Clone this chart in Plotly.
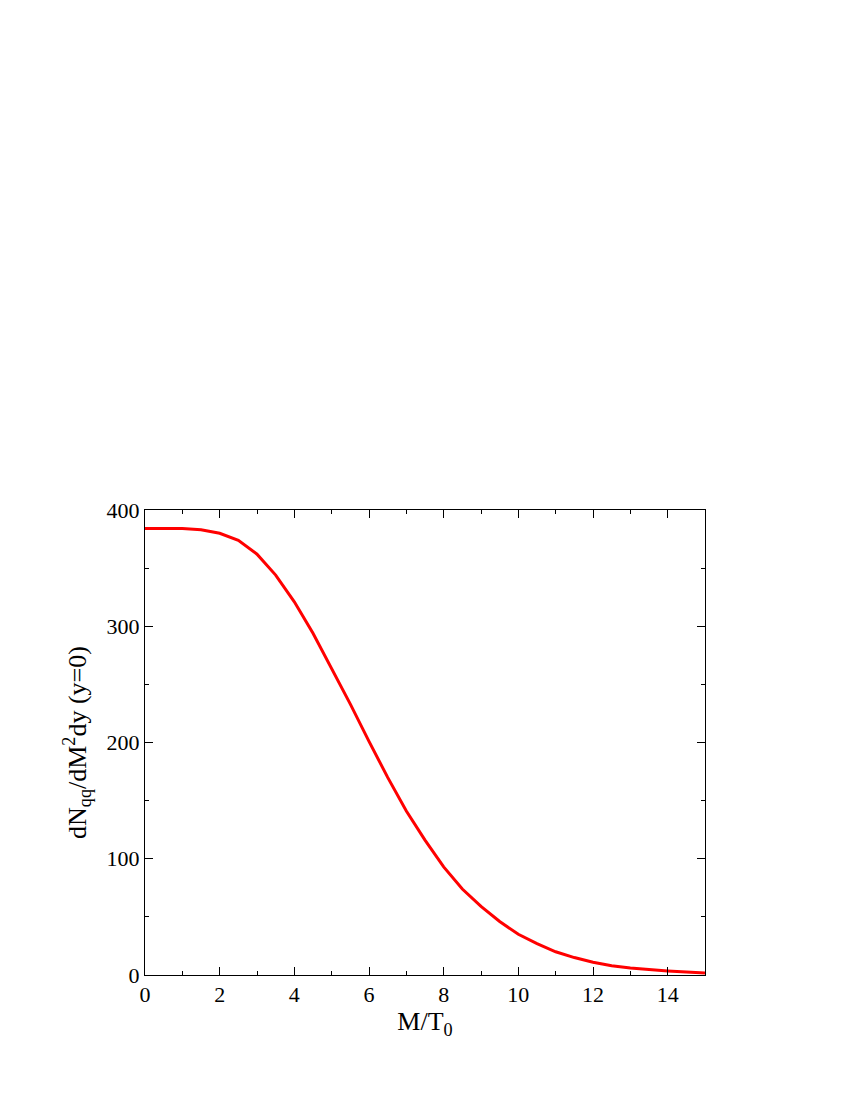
import plotly.graph_objects as go

m_over_t = [0, 0.5, 1, 1.5, 2, 2.5, 3, 3.5, 4, 4.5, 5, 5.5, 6, 6.5, 7, 7.5, 8, 8.5, 9, 9.5,
            10, 10.5, 11, 11.5, 12, 12.5, 13, 13.5, 14, 14.5, 15]
dn = [384, 384, 384, 383, 380, 374, 362, 344, 321, 294, 264, 233, 201, 170, 141, 116, 93, 74, 59, 46,
      35, 27, 20, 15, 11, 8, 6, 4.5, 3.5, 2.5, 1.8]

fig = go.Figure(go.Scatter(x=m_over_t, y=dn, mode="lines", line=dict(color="#ff0000", width=3)))
ax = dict(showgrid=False, zeroline=False, showline=True, linecolor="black", linewidth=1, mirror="ticks",
          ticks="inside", ticklen=8, tickcolor="black",
          tickfont=dict(family="Liberation Serif", size=22, color="black"))
fig.update_xaxes(**ax, range=[0, 15], tickvals=[0, 2, 4, 6, 8, 10, 12, 14],
                 minor=dict(ticks="inside", ticklen=4, dtick=1, tickcolor="black"),
                 title=dict(text="M/T<sub>0</sub>", font=dict(family="Liberation Serif", size=26, color="black"), standoff=5))
fig.update_yaxes(**ax, range=[0, 400], dtick=100,
                 minor=dict(ticks="inside", ticklen=4, dtick=50, tickcolor="black"),
                 title=dict(text="dN<sub>qq</sub>/dM<sup>2</sup>dy (y=0)", font=dict(family="Liberation Serif", size=26, color="black"), standoff=12))
fig.update_layout(width=850, height=1100, margin=dict(l=137, r=153, t=502, b=133),
                  plot_bgcolor="white", paper_bgcolor="white", showlegend=False)
fig.write_html("out.html")
